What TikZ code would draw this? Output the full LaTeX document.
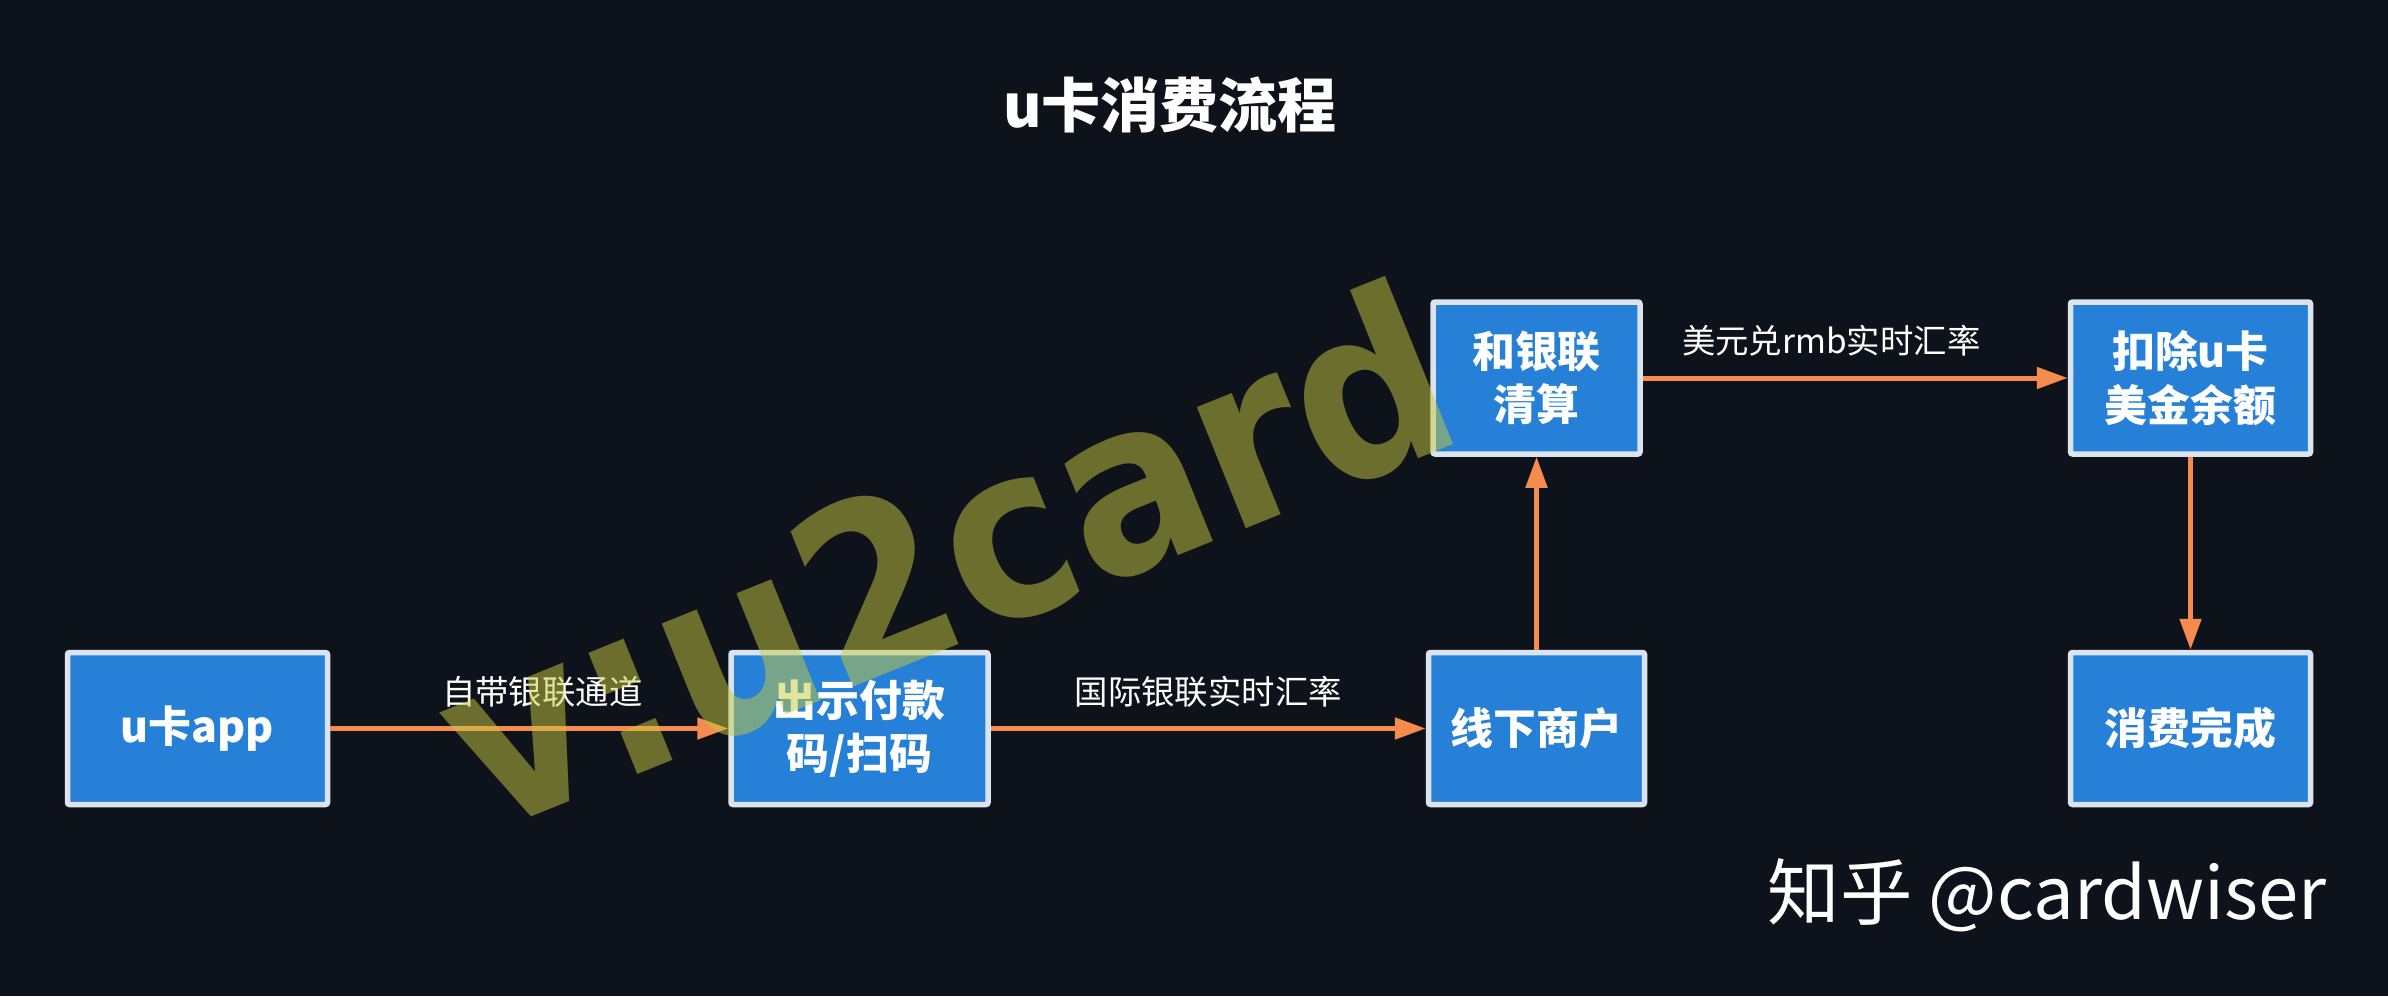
\documentclass[tikz,border=0pt]{standalone}
\usepackage{fontspec}
\setmainfont{Noto Sans CJK SC}
\newfontfamily\wmfont{DejaVu Sans}
\usetikzlibrary{positioning,arrows.meta}
\definecolor{bgdark}{RGB}{14,19,27}
\definecolor{boxblue}{RGB}{38,128,216}
\definecolor{boxrim}{RGB}{218,227,238}
\definecolor{flow}{RGB}{245,139,79}
\definecolor{wmark}{RGB}{200,202,62}
\tikzset{
  stage/.style={draw=boxrim, line width=0.055cm, rounded corners=0.6pt, fill=boxblue, align=center,
              minimum height=1.52cm, inner sep=2pt, text=white,
              font=\fontsize{12.2}{15.2}\selectfont\bfseries},
  arr/.style={-{Triangle[length=0.31cm, width=0.21cm]}, line width=0.05cm, draw=flow},
  lbl/.style={font=\fontsize{9.5}{11}\selectfont, text=white, inner sep=0pt},
}

\begin{document}
\begin{tikzpicture}
  \fill[bgdark] (0,0) rectangle (23.88,-9.96);
  \useasboundingbox (0,0) rectangle (23.88,-9.96);

  \node[text=white, font=\fontsize{16.8}{20}\selectfont\bfseries] (title) at (11.70,-1.05) {u卡消费流程};

  \node[stage, minimum width=2.6cm] (app) at (1.975,-7.285) {u卡app};
  \node[stage, minimum width=2.57cm, right=3.98cm of app] (pay) {出示付款\\码/扫码};
  \node[stage, minimum width=2.16cm, right=4.35cm of pay] (shop) {线下商户};
  \node[stage, minimum width=2.07cm, above=1.93cm of shop] (clear) {和银联\\清算};
  \node[stage, minimum width=2.4cm, right=4.25cm of clear] (deduct) {扣除u卡\\美金余额};
  \node[stage, minimum width=2.4cm, below=1.93cm of deduct] (done) {消费完成};

  \draw[arr] (app) -- (pay) node[midway, lbl, above=0.19cm, xshift=0.13cm] {自带银联通道};
  \draw[arr] (pay) -- (shop) node[midway, lbl, above=0.19cm] {国际银联实时汇率};
  \draw[arr] (shop) -- (clear);
  \draw[arr] (clear) -- (deduct) node[midway, lbl, above=0.19cm, xshift=-0.24cm] {美元兑rmb实时汇率};
  \draw[arr] (deduct) -- (done);

  \node[anchor=west, inner sep=0pt, text=white, font=\fontsize{20.6}{24}\selectfont] (sign) at (17.67,-8.95) {知乎 @cardwiser};

  % watermark over everything
  \node[rotate=22, xscale=0.9, anchor=base west, inner sep=0pt, text=wmark, text opacity=0.5,
        font=\wmfont\bfseries\fontsize{68}{72}\selectfont] (mark) at (4.85,-8.36) {v:u2card};
\end{tikzpicture}
\end{document}
